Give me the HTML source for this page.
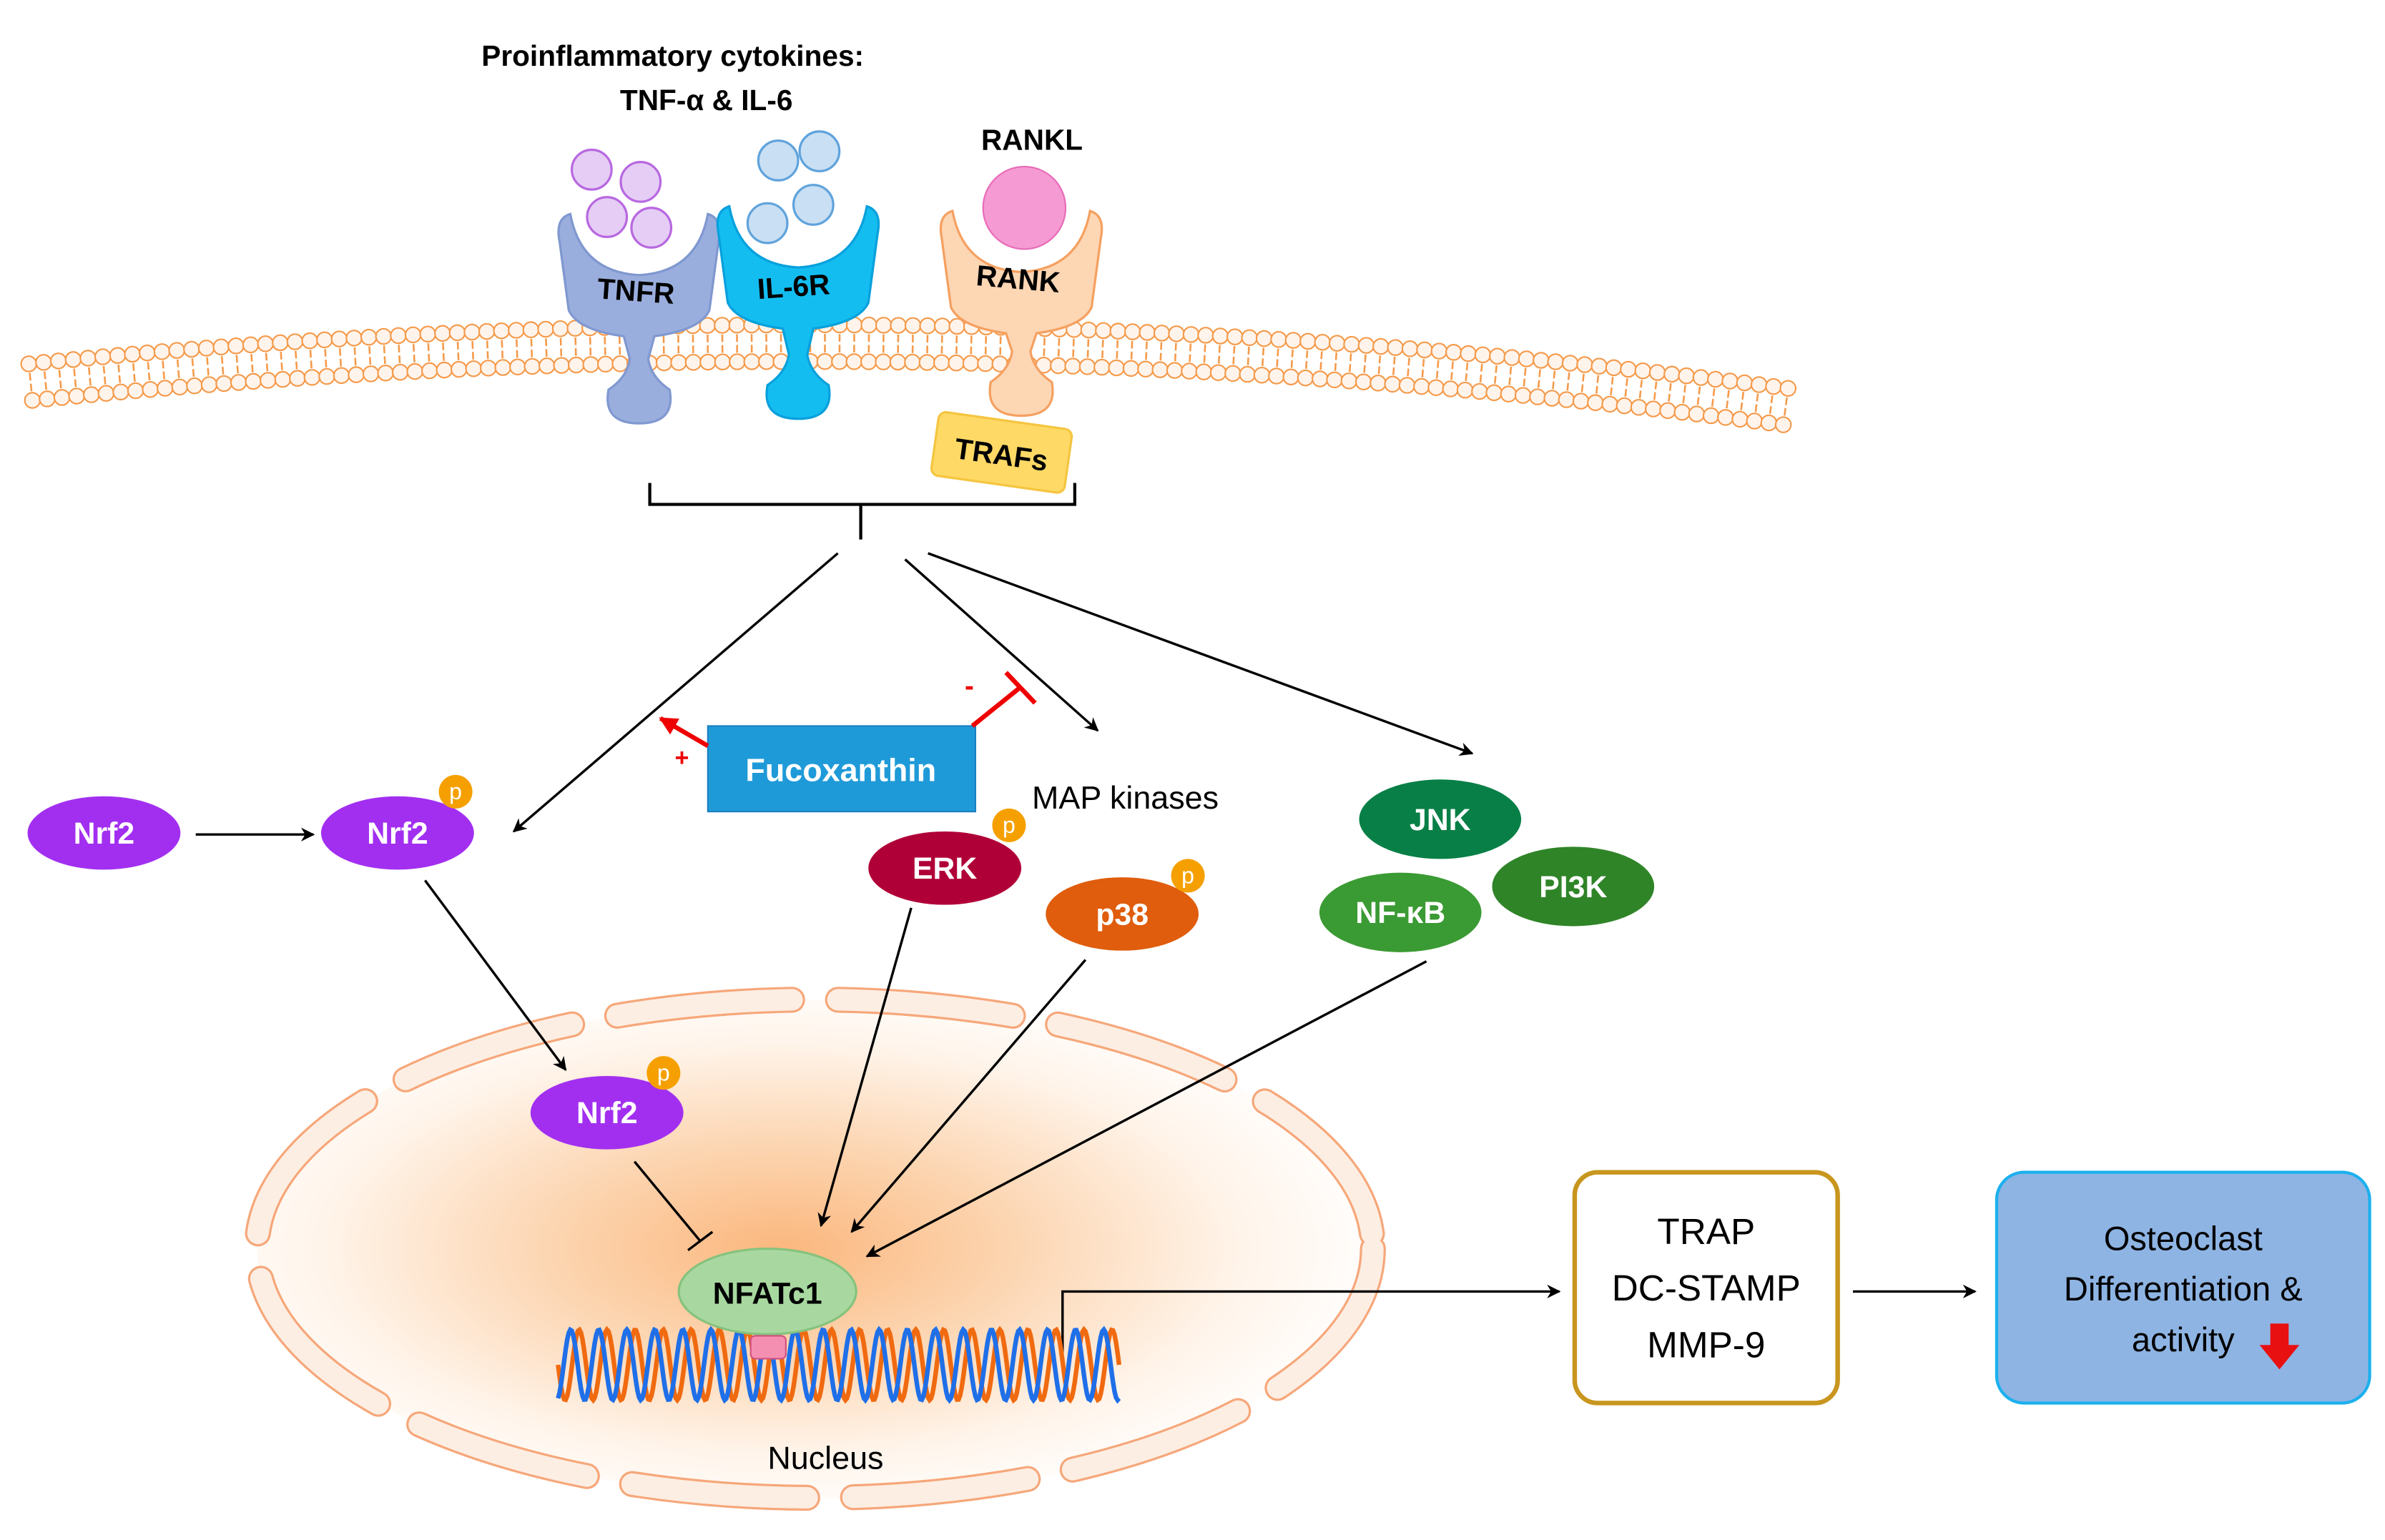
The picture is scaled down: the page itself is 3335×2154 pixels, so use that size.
<!DOCTYPE html>
<html><head><meta charset="utf-8"><style>
html,body{margin:0;padding:0;background:#fff;}
svg{display:block;}
text{font-family:"Liberation Sans",sans-serif;}
</style></head><body>
<svg id="s" xmlns="http://www.w3.org/2000/svg" width="3335" height="2154" viewBox="0 0 1560 1007.6">
<defs>
<marker id="ar" viewBox="0 0 10 10" refX="9" refY="5" markerWidth="9" markerHeight="9" orient="auto" markerUnits="userSpaceOnUse"><path d="M0,0 L10,5 L0,10 L3,5 z" fill="#000"/></marker>
<marker id="arr" viewBox="0 0 10 10" refX="9" refY="5" markerWidth="12" markerHeight="12" orient="auto" markerUnits="userSpaceOnUse"><path d="M0,0 L10,5 L0,10 z" fill="#e00"/></marker>
<radialGradient id="ng" cx="0.47" cy="0.5" r="0.55">
<stop offset="0" stop-color="#fbb77e"/><stop offset="0.35" stop-color="#fcd3ad"/><stop offset="0.75" stop-color="#fff4ea"/><stop offset="1" stop-color="#fff"/></radialGradient>
</defs>
<rect width="1560" height="1008" fill="#fff"/>
<g id="mem"></g>

<ellipse cx="533" cy="817" rx="365" ry="163" fill="url(#ng)"/>
<ellipse cx="533" cy="817" rx="365" ry="163" fill="none" stroke="#f6a77a" stroke-width="17" stroke-dasharray="115 30" stroke-linecap="round"/>
<ellipse cx="533" cy="817" rx="365" ry="163" fill="none" stroke="#fdeee3" stroke-width="14" stroke-dasharray="115 30" stroke-linecap="round"/>

<text x="440" y="43" font-size="19" font-weight="bold" text-anchor="middle">Proinflammatory cytokines:</text>
<text x="462" y="72" font-size="19" font-weight="bold" text-anchor="middle">TNF-α  &amp;  IL-6</text>
<text x="675" y="98" font-size="19" font-weight="bold" text-anchor="middle">RANKL</text>

<g fill="#e6cdf5" stroke="#b868e0" stroke-width="1.5">
<circle cx="387" cy="111" r="13"/><circle cx="419" cy="119" r="13"/><circle cx="397" cy="142" r="13"/><circle cx="426" cy="149" r="13"/></g>
<g fill="#c9dff3" stroke="#5fa3dc" stroke-width="1.5">
<circle cx="509" cy="105" r="13"/><circle cx="536" cy="99" r="13"/><circle cx="502" cy="146" r="13"/><circle cx="532" cy="134" r="13"/></g>

<g id="rec"></g>
<circle cx="670" cy="136" r="27" fill="#f59ad2" stroke="#e86ab8" stroke-width="1"/>
<text x="416" y="197" font-size="19" font-weight="bold" text-anchor="middle" transform="rotate(4 416 190)">TNFR</text>
<text x="519" y="194" font-size="19" font-weight="bold" text-anchor="middle" transform="rotate(-4 519 187)">IL-6R</text>
<text x="666" y="189" font-size="19" font-weight="bold" text-anchor="middle" transform="rotate(5 666 182)">RANK</text>
<g transform="rotate(8 655 297)"><rect x="611" y="275" width="88" height="42" rx="5" fill="#ffd966" stroke="#f5c540" stroke-width="1.5"/>
<text x="655" y="304" font-size="19" font-weight="bold" text-anchor="middle">TRAFs</text></g>

<path d="M425,316 V330 H703 V316 M563,330 V353" fill="none" stroke="#000" stroke-width="2"/>

<g stroke="#000" stroke-width="1.6" fill="none" marker-end="url(#ar)">
<line x1="548" y1="362" x2="336" y2="544"/>
<line x1="592" y1="366" x2="718" y2="478"/>
<line x1="607" y1="362" x2="963" y2="493"/>
<line x1="128" y1="546" x2="205" y2="546"/>
<line x1="278" y1="576" x2="370" y2="700"/>
<line x1="596" y1="594" x2="537" y2="802"/>
<line x1="710" y1="628" x2="557" y2="806"/>
<line x1="933" y1="629" x2="567" y2="822"/>
<polyline points="695,885 695,845 1020,845"/>
<line x1="1212" y1="845" x2="1292" y2="845"/>
</g>
<path d="M415,760 L458,812 M450,818 L466,806" stroke="#000" stroke-width="1.6" fill="none"/>

<rect x="463" y="475" width="175" height="56" fill="#1f9ad8" stroke="#1a7fc0"/>
<text x="550" y="511" font-size="21" font-weight="bold" fill="#fff" text-anchor="middle">Fucoxanthin</text>
<line x1="463" y1="488" x2="432" y2="470" stroke="#e00" stroke-width="3" marker-end="url(#arr)"/>
<text x="446" y="501" font-size="16" fill="#e00" font-weight="bold" text-anchor="middle">+</text>
<path d="M636,475 L667,450 M658,440 L677,460" stroke="#e00" stroke-width="3" fill="none"/>
<text x="634" y="455" font-size="18" fill="#e00" font-weight="bold" text-anchor="middle">-</text>

<text x="675" y="529" font-size="21">MAP kinases</text>

<g font-size="20" font-weight="bold" fill="#fff" text-anchor="middle">
<ellipse cx="68" cy="545" rx="50" ry="24" fill="#a22ff0"/><text x="68" y="552" fill="#fff">Nrf2</text>
<ellipse cx="260" cy="545" rx="50" ry="24" fill="#a22ff0"/><text x="260" y="552" fill="#fff">Nrf2</text>
<ellipse cx="618" cy="568" rx="50" ry="24" fill="#b00038"/><text x="618" y="575" fill="#fff">ERK</text>
<ellipse cx="734" cy="598" rx="50" ry="24" fill="#df5d0c"/><text x="734" y="605" fill="#fff">p38</text>
<ellipse cx="942" cy="536" rx="53" ry="26" fill="#087f46"/><text x="942" y="543" fill="#fff">JNK</text>
<ellipse cx="1029" cy="580" rx="53" ry="26" fill="#2f8428"/><text x="1029" y="587" fill="#fff">PI3K</text>
<ellipse cx="916" cy="597" rx="53" ry="26" fill="#3a9a33"/><text x="916" y="604" fill="#fff">NF-κB</text>
<ellipse cx="397" cy="728" rx="50" ry="24" fill="#a22ff0"/><text x="397" y="735" fill="#fff">Nrf2</text>
</g>
<g font-size="15" fill="#fff" text-anchor="middle">
<circle cx="298" cy="518" r="11" fill="#f5a000"/><text x="298" y="523">p</text>
<circle cx="660" cy="540" r="11" fill="#f5a000"/><text x="660" y="545">p</text>
<circle cx="777" cy="573" r="11" fill="#f5a000"/><text x="777" y="578">p</text>
<circle cx="434" cy="702" r="11" fill="#f5a000"/><text x="434" y="707">p</text>
</g>

<g id="dna"></g>
<ellipse cx="502" cy="845" rx="58" ry="28" fill="#a8d8a0" stroke="#86c27e" stroke-width="1.5"/>
<text x="502" y="853" font-size="20" font-weight="bold" text-anchor="middle">NFATc1</text>
<rect x="491" y="874" width="23" height="15" rx="3" fill="#f48fb1" stroke="#d05080"/>
<text x="540" y="961" font-size="21" text-anchor="middle">Nucleus</text>

<rect x="1030" y="767" width="172" height="151" rx="15" fill="#fff" stroke="#c8961e" stroke-width="3"/>
<g font-size="24" text-anchor="middle"><text x="1116" y="814">TRAP</text><text x="1116" y="851">DC-STAMP</text><text x="1116" y="888">MMP-9</text></g>
<rect x="1306" y="767" width="244" height="151" rx="18" fill="#8eb4e3" stroke="#1cb0ee" stroke-width="2"/>
<g font-size="22" text-anchor="middle"><text x="1428" y="818">Osteoclast</text><text x="1428" y="851">Differentiation &amp;</text><text x="1428" y="884">activity</text></g>
<path d="M1485,866 h12 v14 h7 l-13,16 l-13,-16 h7 z" fill="#e81010"/>
</svg>
<script>
var NS="http://www.w3.org/2000/svg";
function el(p,t,a){var e=document.createElementNS(NS,t);for(var k in a)e.setAttribute(k,a[k]);p.appendChild(e);return e;}
var m=document.getElementById('mem');
function Q(t){var x0=20,y0=250,cx=600,cy=192,x1=1168,y1=266;var u=1-t;
return [u*u*x0+2*u*t*cx+t*t*x1,u*u*y0+2*u*t*cy+t*t*y1,2*u*(cx-x0)+2*t*(x1-cx),2*u*(cy-y0)+2*t*(y1-cy)];}
var N=120;
for(var i=0;i<=N;i++){var q=Q(i/N);var L=Math.hypot(q[2],q[3]);var nx=-q[3]/L,ny=q[2]/L;
 var d=12;
 el(m,'line',{x1:q[0]-nx*6,y1:q[1]-ny*6,x2:q[0]-nx*1,y2:q[1]-ny*1,stroke:'#f59a4a','stroke-width':1.2});
 el(m,'line',{x1:q[0]+nx*1,y1:q[1]+ny*1,x2:q[0]+nx*6,y2:q[1]+ny*6,stroke:'#f59a4a','stroke-width':1.2});
 el(m,'circle',{cx:q[0]-nx*d,cy:q[1]-ny*d,r:5,fill:'#fff4ec',stroke:'#f59a4a','stroke-width':1});
 el(m,'circle',{cx:q[0]+nx*d,cy:q[1]+ny*d,r:5,fill:'#fff4ec',stroke:'#f59a4a','stroke-width':1});}
var r=document.getElementById('rec');
function rec(x,top,foot,fill,stroke){
 var p='M'+(x-52)+','+(top+10)+' Q'+(x-55)+','+(top-5)+' '+(x-45)+','+(top-8)+' Q'+(x-38)+','+(top+30)+' '+x+','+(top+32)+' Q'+(x+38)+','+(top+30)+' '+(x+45)+','+(top-8)+' Q'+(x+55)+','+(top-5)+' '+(x+52)+','+(top+10)+
 ' L'+(x+46)+','+(top+55)+' Q'+(x+40)+','+(top+68)+' '+(x+10)+','+(top+72)+' L'+(x+6)+','+(foot-20)+' Q'+(x+8)+','+(foot-8)+' '+(x+20)+','+(foot)+' Q'+(x+24)+','+(foot+22)+' '+x+','+(foot+22)+' Q'+(x-24)+','+(foot+22)+' '+(x-20)+','+(foot)+' Q'+(x-8)+','+(foot-8)+' '+(x-6)+','+(foot-20)+' L'+(x-10)+','+(top+72)+' Q'+(x-40)+','+(top+68)+' '+(x-46)+','+(top+55)+' Z';
 el(r,'path',{d:p,fill:fill,stroke:stroke,'stroke-width':1.5});}
rec(418,148,255,'#9aaede','#8098d0');
rec(522,143,252,'#14bdf0','#08a0dc');
rec(668,146,250,'#fdd6b4','#f5a060');
var g=document.getElementById('dna');
function strand(ph,col){var s='';for(var x=365;x<=732;x+=1){var y=893+23*Math.sin((x-365)/(367)*2*Math.PI*20+ph);s+=(x==365?'M':'L')+x+','+y.toFixed(1);}
 el(g,'path',{d:s,fill:'none',stroke:col,'stroke-width':3});}
strand(0,'#f06a10');strand(Math.PI*0.6,'#1f6fe8');
</script>
</body></html>
